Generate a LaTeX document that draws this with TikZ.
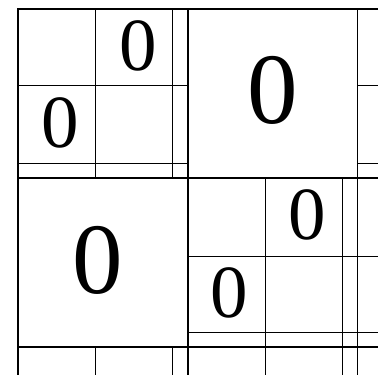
\documentclass[tikz,border=0pt]{standalone}
\usepackage{fontspec}
\setmainfont{Liberation Serif}
\begin{document}
\begin{tikzpicture}[x=1pt,y=-1pt,
  border/.style={line width=2pt,line cap=rect},
  blockline/.style={line width=1.1pt},
  subline/.style={line width=0.7pt},
  smallzero/.style={inner sep=0pt,font=\fontsize{75}{75}\selectfont},
  bigzero/.style={inner sep=0pt,font=\fontsize{101}{101}\selectfont}]
\useasboundingbox (0,0) rectangle (378,375);
% sub-division lines
\draw[subline] (95,9) -- (95,178) (172,9) -- (172,178);
\draw[subline] (18,85) -- (188,85) (18,163) -- (188,163);
\draw[subline] (95,347) -- (95,375) (172,347) -- (172,375);
\draw[subline] (265.5,178) -- (265.5,375) (342,178) -- (342,375);
\draw[subline] (188,256) -- (378,256) (188,332) -- (378,332);
\draw[subline] (357.7,85) -- (378,85) (357.7,163) -- (378,163);
% block lines
\draw[blockline] (188,9) -- (188,375) (357.7,9) -- (357.7,375);
\draw[blockline] (18,178) -- (378,178) (18,347) -- (378,347);
% outer border
\draw[border] (18,375) -- (18,9) -- (378,9);
% zeros
\node[smallzero] (z1) at (138.3,46) {0};
\node[smallzero] (z2) at (60.5,122.5) {0};
\node[bigzero] (z3) at (272.5,90) {0};
\node[bigzero] (z4) at (97.5,260) {0};
\node[smallzero] (z5) at (307.2,215) {0};
\node[smallzero] (z6) at (229.5,292.5) {0};
\end{tikzpicture}
\end{document}
